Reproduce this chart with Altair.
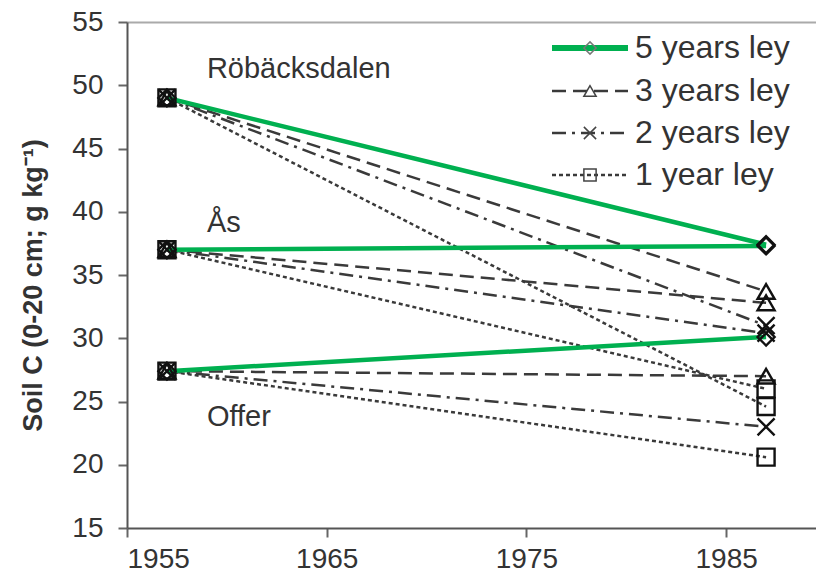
import altair as alt
import pandas as pd

# ---------------- data ----------------
sites = ["Röbäcksdalen", "Ås", "Offer"]
treatments = ["5 years ley", "3 years ley", "2 years ley", "1 year ley"]
year_start = 1957
year_end = 1987
start_values = [49.0, 37.0, 27.4]          # per site, 1957
end_5yr = [37.4, 37.3, 30.1]               # per site, 1987
end_3yr = [33.7, 32.8, 27.0]
end_2yr = [31.0, 30.4, 23.0]
end_1yr = [24.6, 26.0, 20.6]

site_label_year = [1959, 1959, 1959]
site_label_value = [51.3, 39.1, 23.8]

x_ticks = [1955, 1965, 1975, 1985]
y_ticks = [15, 20, 25, 30, 35, 40, 45, 50, 55]

# ---------------- styles ----------------
FONT = "Liberation Sans"
GREEN = "#00B050"
GRAY = "#3a3a3a"
colors = [GREEN, GRAY, GRAY, GRAY]
dashes = [[1, 0], [14, 7], [14, 6, 3, 6], [4, 3]]
xshape = "M-1,-1L1,1M-1,1L1,-1"
shapes = ["diamond", "triangle-up", xshape, "square"]

ends = [end_5yr, end_3yr, end_2yr, end_1yr]
rows = []
for ti, t in enumerate(treatments):
    for si, s in enumerate(sites):
        rows.append({"site": s, "treatment": t, "year": year_start, "value": start_values[si]})
        rows.append({"site": s, "treatment": t, "year": year_end, "value": ends[ti][si]})
df = pd.DataFrame(rows)

labels_df = pd.DataFrame({"site": sites, "year": site_label_year, "value": site_label_value})

x_enc = alt.X(
    "year:Q",
    scale=alt.Scale(domain=[1955, 1989.5], nice=False, zero=False),
    axis=alt.Axis(
        values=x_ticks, format="d", title=None, grid=False,
        labelFont=FONT, labelFontSize=28, labelColor="#333",
        tickSize=9, tickWidth=2, tickColor="#666",
        domainColor="#555", domainWidth=2, labelPadding=8,
    ),
)
y_enc = alt.Y(
    "value:Q",
    scale=alt.Scale(domain=[15, 55], nice=False, zero=False),
    axis=alt.Axis(
        values=y_ticks, title="Soil C (0-20 cm; g kg⁻¹)",
        labelFont=FONT, labelFontSize=28, labelColor="#333",
        tickSize=9, tickWidth=2, tickColor="#666",
        domainColor="#555", domainWidth=2, labelPadding=15,
        grid=True, gridColor="#aaa", gridWidth=2,
        gridOpacity=alt.condition("datum.value == 55", alt.value(1), alt.value(0)),
        titleFont=FONT, titleFontSize=27, titleFontWeight="bold", titleColor="#333",
        titleX=-94, titleY=263, titleAngle=270, titleAlign="center", titleBaseline="middle",
    ),
)

color_scale = alt.Scale(domain=treatments, range=colors)
dash_scale = alt.Scale(domain=treatments, range=dashes)
shape_scale = alt.Scale(domain=treatments, range=shapes)

base = alt.Chart(df)

gray_lines = base.transform_filter(alt.datum.treatment != treatments[0]).mark_line(strokeWidth=2.5).encode(
    x=x_enc, y=y_enc, detail="site:N",
    color=alt.Color("treatment:N", scale=color_scale, legend=None),
    strokeDash=alt.StrokeDash("treatment:N", scale=dash_scale, legend=None),
)
green_lines = base.transform_filter(alt.datum.treatment == treatments[0]).mark_line(strokeWidth=4.5).encode(
    x=x_enc, y=y_enc, detail="site:N",
    color=alt.Color("treatment:N", scale=color_scale, legend=None),
)
points = base.mark_point(filled=False, size=290, strokeWidth=2.4, color="#111", opacity=1).encode(
    x=x_enc, y=y_enc,
    shape=alt.Shape("treatment:N", scale=shape_scale, legend=None),
)
site_text = alt.Chart(labels_df).mark_text(
    align="left", baseline="middle", font=FONT, fontSize=29, color="#333"
).encode(x=x_enc, y=y_enc, text="site:N")

# ---------------- manual legend (pixel offsets inside the plot area) ----------------
legend_rows_y = [26, 69, 111, 153]
legend_line_x = (425, 501)
legend_marker_x = 463
legend_text_x = 508
legend_layers = []
for i, t in enumerate(treatments):
    ldf = pd.DataFrame({"label": [t]})
    lc = alt.Chart(ldf)
    legend_layers.append(
        lc.mark_rule(
            color=colors[i], strokeWidth=6 if i == 0 else 2.5, strokeDash=dashes[i]
        ).encode(x=alt.value(legend_line_x[0]), x2=alt.value(legend_line_x[1]), y=alt.value(legend_rows_y[i]))
    )
    legend_layers.append(
        lc.mark_point(
            shape=shapes[i], filled=False, size=150, strokeWidth=1.5,
            color="#777" if i == 0 else "#444", opacity=1,
        ).encode(x=alt.value(legend_marker_x), y=alt.value(legend_rows_y[i]))
    )
    legend_layers.append(
        lc.mark_text(align="left", baseline="middle", font=FONT, fontSize=32, color="#333").encode(
            x=alt.value(legend_text_x), y=alt.value(legend_rows_y[i]), text="label:N"
        )
    )

chart = alt.layer(gray_lines, green_lines, points, site_text, *legend_layers).properties(
    width=689, height=506,
    autosize=alt.AutoSizeParams(type="none"),
    padding={"left": 127, "top": 22, "right": 0, "bottom": 48},
    background="white",
).configure_view(stroke=None)

chart.save("out.html", embed_options={"renderer": "svg", "actions": False})
